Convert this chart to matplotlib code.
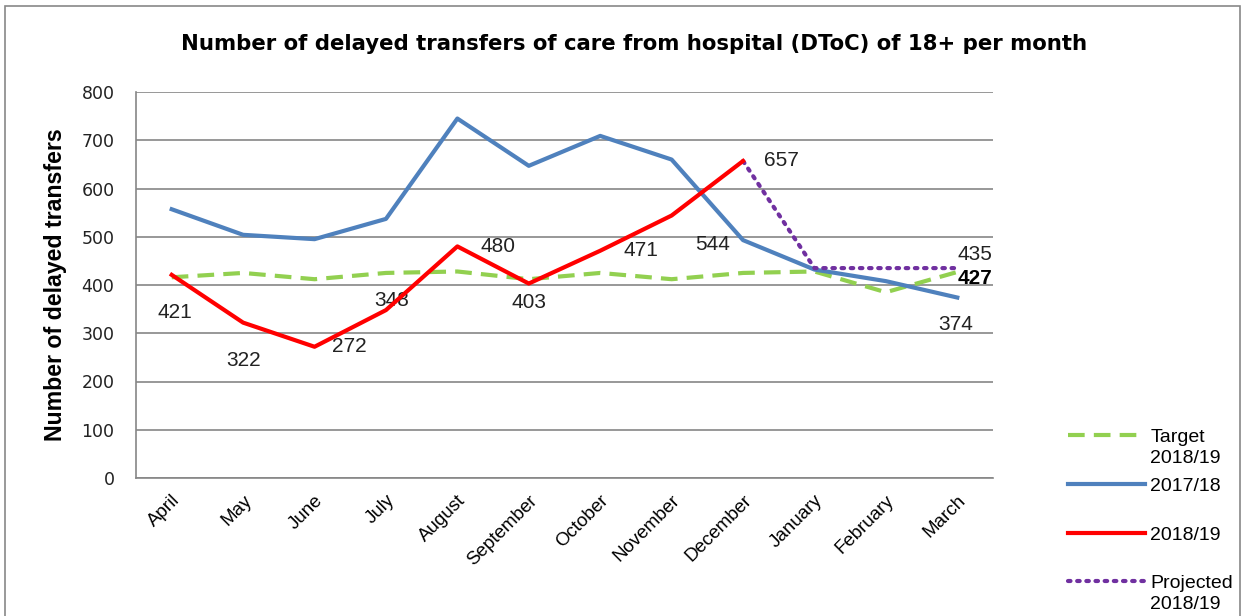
import matplotlib
matplotlib.use("Agg")
import matplotlib.pyplot as plt
from matplotlib.patches import Rectangle
import numpy as np

months = ["April", "May", "June", "July", "August", "September", "October",
          "November", "December", "January", "February", "March"]
target = [416, 425, 412, 425, 428, 412, 425, 412, 425, 428, 385, 427]
y1718 = [557, 504, 495, 537, 745, 647, 709, 660, 493, 432, 408, 374]
y1819 = [421, 322, 272, 348, 480, 403, 471, 544, 657, None, None, None]
projected = [None, None, None, None, None, None, None, None, 657, 435, 435, 435]
yticks = [0, 100, 200, 300, 400, 500, 600, 700, 800]

LS = ['Liberation Sans', 'DejaVu Sans']
plt.rcParams['font.family'] = LS

fig = plt.figure(figsize=(12.45, 6.16), dpi=100)
ax = fig.add_axes([136/1245, 1-478/616, (993-136)/1245, (478-92)/616])

x = np.arange(len(months))

def arr(v):
    return np.array([np.nan if a is None else a for a in v], dtype=float)

ax.plot(x, target, color='#92D050', lw=3, dashes=(4, 2.2), label='Target', zorder=3)
ax.plot(x, y1718, color='#4F81BD', lw=3, label='2017/18', zorder=4)
ax.plot(x, arr(y1819), color='#FF0000', lw=3, label='2018/19', zorder=5)
ax.plot(x, arr(projected), color='#7030A0', lw=3, linestyle=(0, (0.6, 1.6)),
        dash_capstyle='round', label='Projected', zorder=4)

ax.set_xlim(-0.5, len(months) - 0.5)
ax.set_ylim(0, 800)
ax.set_yticks(yticks)
ax.set_yticklabels([str(t) for t in yticks], fontsize=12.5, family=['DejaVu Sans'], color='#222222')
ax.set_xticks(x)
ax.set_xticklabels(months, rotation=45, ha='right', rotation_mode='anchor', fontsize=13.5)
ax.tick_params(axis='y', length=0, pad=15.5)
ax.tick_params(axis='x', length=0, pad=10)
ax.grid(axis='y', color='#868686', lw=1.2)
ax.set_axisbelow(True)
for s in ['top', 'right']:
    ax.spines[s].set_visible(False)
for s in ['left', 'bottom']:
    ax.spines[s].set_color('#868686')
    ax.spines[s].set_linewidth(1.2)

ax.set_ylabel('Number of delayed transfers', fontsize=16.7, fontweight='bold', labelpad=10)
fig.text(634/1245, 1-44/616, 'Number of delayed transfers of care from hospital (DToC) of 18+ per month',
         ha='center', va='center', fontsize=15.3, fontweight='bold', family=['DejaVu Sans'])

lbl = dict(fontsize=15, color='#222222', ha='center', va='center')
offsets = {0: (2, -27), 1: (0, -27), 2: (25, 0), 3: (4, 7), 4: (29, 0), 5: (0, -14),
           6: (29, 0), 7: (29.5, -21), 8: (28, 0)}
for i, v in enumerate(y1819):
    if v is None:
        continue
    ax.annotate(str(v), (x[i], v), xytext=offsets[i], textcoords='offset points', **lbl)
ax.annotate(str(projected[-1]), (x[-1], projected[-1]), xytext=(13, 10),
            textcoords='offset points', **lbl)
ax.annotate(str(target[-1]), (x[-1], target[-1]), xytext=(13, -5),
            textcoords='offset points', fontweight='bold', fontsize=15, color='black',
            ha='center', va='center', zorder=6)
ax.annotate(str(y1718[-1]), (x[-1], y1718[-1]), xytext=(-1.5, -19.5),
            textcoords='offset points', **lbl)

leg = fig.legend(loc='upper left', bbox_to_anchor=(1050/1245, 1-411/616), frameon=False,
                 handlelength=4.0, handletextpad=0.25, labelspacing=1.6,
                 prop={'family': LS, 'size': 14})

# second lines of the two-line legend labels
fig.canvas.draw()
second = {'Target': '2018/19', 'Projected': '2018/19'}
inv = fig.transFigure.inverted()
for t in leg.get_texts():
    if t.get_text() in second:
        bb = t.get_window_extent()
        fx, fy = inv.transform((bb.x0, bb.y0 - 4))
        fig.text(fx, fy, second[t.get_text()], ha='left', va='top', fontsize=14,
                 family=LS, color=t.get_color())

fig.patches.append(Rectangle((0.004, -0.01), 0.992, 1.0, transform=fig.transFigure,
                             fill=False, edgecolor='#888888', lw=1.2))

fig.savefig('out.png', dpi=100)
